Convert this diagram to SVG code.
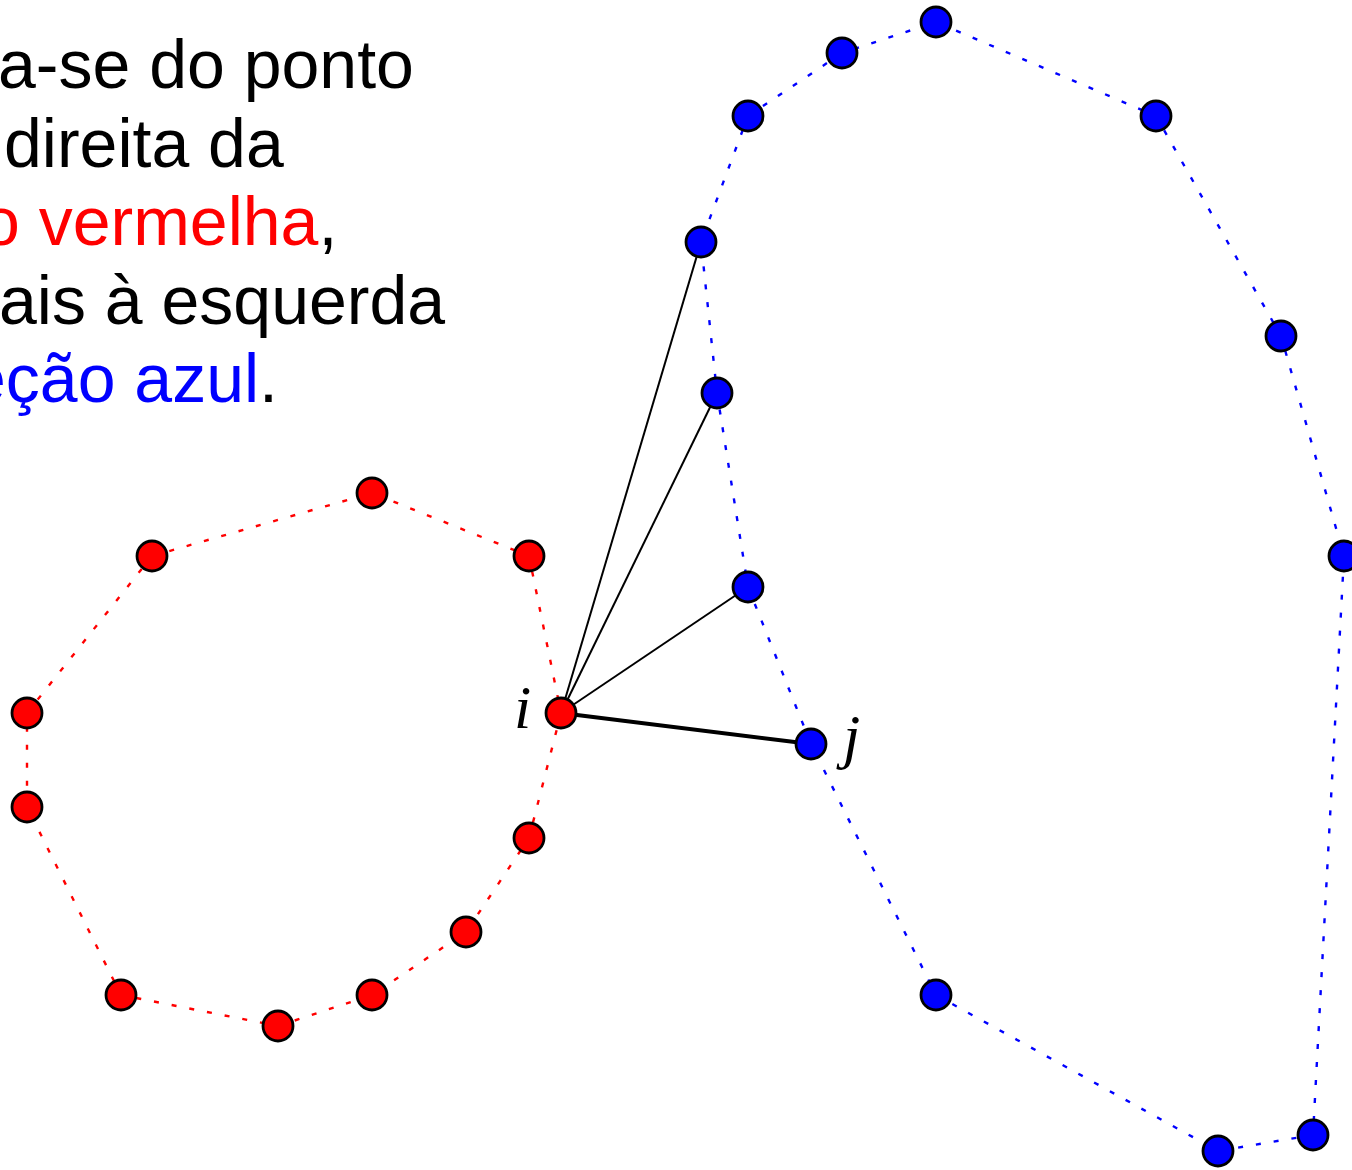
<svg xmlns="http://www.w3.org/2000/svg" width="1352" height="1170" viewBox="0 0 1352 1170">
<style>
.txt{font-family:"Liberation Sans",Arial,sans-serif;font-size:68px;fill:#000}
.red{fill:#ff0000}
.blue{fill:#0000ff}
.lbl{font-family:"Liberation Serif","Times New Roman",serif;font-style:italic;font-size:62px;fill:#000}
.rn{fill:#ff0000;stroke:#000;stroke-width:2.8}
.bn{fill:#0000ff;stroke:#000;stroke-width:2.8}
.rpoly{fill:none;stroke:#ff0000;stroke-width:2.4;stroke-dasharray:5 13}
.bpoly{fill:none;stroke:#0000ff;stroke-width:2.4;stroke-dasharray:5 13}
.thin{stroke:#000;stroke-width:2;fill:none}
.thick{stroke:#000;stroke-width:4;fill:none}
</style>
<rect width="1352" height="1170" fill="#fff"/>
<g id="caption">
<text class="txt" x="-2" y="88">a-se do ponto</text>
<text class="txt" x="4" y="167">direita da</text>
<text class="txt" x="-18" y="245"><tspan class="red">o vermelha</tspan>,</text>
<text class="txt" x="-1" y="324">ais à esquerda</text>
<text class="txt" x="-32" y="402"><tspan class="blue">eção azul</tspan>.</text>
</g>
<g id="connectors">
<polygon class="rpoly" points="152,556 372,493 529,556 561,713 529,838 466,932 372,995 278,1026 121,995 27,807 27,713"/>
<polygon class="bpoly" points="748,116 842,53 936,22 1156,116 1281,336 1344,556 1313,1135 1218,1151 936,995 811,744 748,587 717,393 701,242"/>
<line class="thin" x1="561" y1="713" x2="701" y2="242"/>
<line class="thin" x1="561" y1="713" x2="717" y2="393"/>
<line class="thin" x1="561" y1="713" x2="748" y2="587"/>
<line class="thick" x1="561" y1="713" x2="811" y2="744"/>
</g>
<g id="red-nodes">
<circle id="r1" class="rn" cx="152" cy="556" r="15"/>
<circle id="r2" class="rn" cx="372" cy="493" r="15"/>
<circle id="r3" class="rn" cx="529" cy="556" r="15"/>
<circle id="r5" class="rn" cx="529" cy="838" r="15"/>
<circle id="r6" class="rn" cx="466" cy="932" r="15"/>
<circle id="r7" class="rn" cx="372" cy="995" r="15"/>
<circle id="r8" class="rn" cx="278" cy="1026" r="15"/>
<circle id="r9" class="rn" cx="121" cy="995" r="15"/>
<circle id="r10" class="rn" cx="27" cy="807" r="15"/>
<circle id="r11" class="rn" cx="27" cy="713" r="15"/>
</g>
<g id="node-i">
<circle class="rn" cx="561" cy="713" r="15"/>
<text class="lbl" x="514" y="728">i</text>
</g>
<g id="blue-nodes">
<circle id="b1" class="bn" cx="748" cy="116" r="15"/>
<circle id="b2" class="bn" cx="842" cy="53" r="15"/>
<circle id="b3" class="bn" cx="936" cy="22" r="15"/>
<circle id="b4" class="bn" cx="1156" cy="116" r="15"/>
<circle id="b5" class="bn" cx="1281" cy="336" r="15"/>
<circle id="b6" class="bn" cx="1344" cy="556" r="15"/>
<circle id="b7" class="bn" cx="1313" cy="1135" r="15"/>
<circle id="b8" class="bn" cx="1218" cy="1151" r="15"/>
<circle id="b9" class="bn" cx="936" cy="995" r="15"/>
<circle id="b11" class="bn" cx="748" cy="587" r="15"/>
<circle id="b12" class="bn" cx="717" cy="393" r="15"/>
<circle id="b13" class="bn" cx="701" cy="242" r="15"/>
</g>
<g id="node-j">
<circle class="bn" cx="811" cy="744" r="15"/>
<text class="lbl" x="843" y="757">j</text>
</g>
</svg>
